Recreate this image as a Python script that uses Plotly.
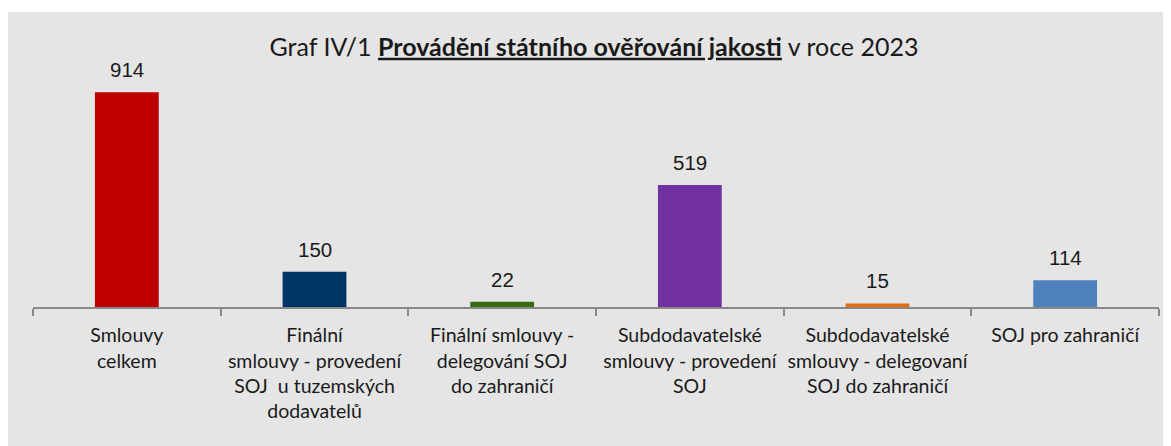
import plotly.graph_objects as go

categories = [
    "Smlouvy<br>celkem",
    "Finální<br>smlouvy - provedení<br>SOJ  u tuzemských<br>dodavatelů",
    "Finální smlouvy -<br>delegování SOJ<br>do zahraničí",
    "Subdodavatelské<br>smlouvy - provedení<br>SOJ",
    "Subdodavatelské<br>smlouvy - delegovaní<br>SOJ do zahraničí",
    "SOJ pro zahraničí",
]
values = [914, 150, 22, 519, 15, 114]
colors = ["#C00000", "#003366", "#376D10", "#7030A0", "#E46C0A", "#4F81BD"]

# page has an 8px body margin; figure origin sits at (8, 8)
W, H = 1163, 438
ml, mr, mt, mb = 25, 12, 64, 139
pw = W - ml - mr
ph = H - mt - mb

fig = go.Figure()
fig.add_trace(go.Bar(x=categories, y=values, marker=dict(color=colors, line=dict(width=0)),
                     showlegend=False, hoverinfo="x+y"))

for c, v in zip(categories, values):
    fig.add_annotation(x=c, y=v, text=str(v), showarrow=False, yanchor="bottom",
                       yshift=9, font=dict(family="Liberation Sans, Arial", size=20.5, color="#1a1a1a"))

# thin white strip above the gray panel
fig.add_shape(type="rect", xref="paper", yref="paper", layer="below",
              x0=-ml / pw - 0.01, x1=(W - ml) / pw + 0.01,
              y0=(mt + ph - 4) / ph, y1=(mt + ph + 2) / ph,
              fillcolor="white", line=dict(width=0))

fig.update_layout(
    width=W, height=H,
    margin=dict(l=ml, r=mr, t=mt, b=mb, pad=0),
    paper_bgcolor="#E5E5E5", plot_bgcolor="#E5E5E5",
    bargap=0.66,
    title=dict(text="Graf IV/1 <b><u>Provádění státního ověřování jakosti</u></b> v roce 2023",
               x=(586 - ml) / pw, xref="paper", xanchor="center",
               y=1 - 39 / H, yref="container", yanchor="middle",
               font=dict(family="Lato, sans-serif", size=25, color="#1a1a1a")),
    xaxis=dict(showline=True, linecolor="#888888", linewidth=2,
               ticks="outside", ticklen=7, tickcolor="#888888", tickwidth=2,
               tickson="boundaries", showgrid=False, ticklabelstandoff=10,
               tickfont=dict(family="Lato, sans-serif", size=19.5, color="#1a1a1a"),
               tickangle=0),
    yaxis=dict(range=[0, 1000], visible=False, showgrid=False, zeroline=False),
)

fig.write_html("out.html")
